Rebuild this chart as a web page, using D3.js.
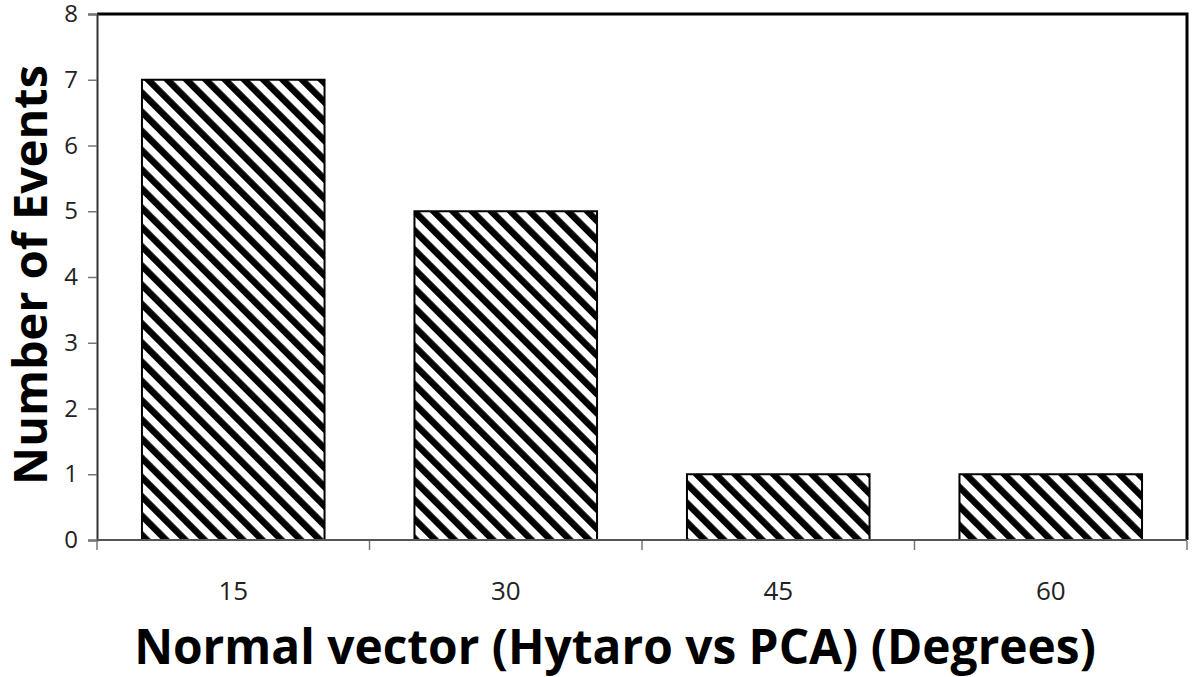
<!DOCTYPE html>
<html>
<head>
<meta charset="utf-8">
<script src="https://cdn.jsdelivr.net/npm/d3@7"></script>
<style>
  html, body { margin: 0; padding: 0; background: #fff; }
  svg { display: block; }
</style>
</head>
<body>
<svg id="chart" width="1200" height="677"></svg>
<script>
const categories = ["15", "30", "45", "60"];
const counts = [7, 5, 1, 1];
const yTicks = [0, 1, 2, 3, 4, 5, 6, 7, 8];
const xTitle = "Normal vector (Hytaro vs PCA) (Degrees)";
const yTitle = "Number of Events";

const W = 1200, H = 677;
const margin = { top: 14, right: 13, bottom: 137, left: 97 };
const iw = W - margin.left - margin.right;
const ih = H - margin.top - margin.bottom;

const svg = d3.select("#chart");

// hatch pattern
const defs = svg.append("defs");
const pat = defs.append("pattern")
  .attr("id", "hatch")
  .attr("patternUnits", "userSpaceOnUse")
  .attr("width", 13.6)
  .attr("height", 13.6)
  .attr("patternTransform", "rotate(-45)");
pat.append("rect").attr("width", 13.6).attr("height", 13.6).attr("fill", "#fff");
pat.append("rect").attr("x", 0).attr("width", 6.6).attr("height", 13.6).attr("fill", "#000");

const g = svg.append("g").attr("transform", `translate(${margin.left},${margin.top})`);

const x = d3.scaleBand().domain(categories).range([0, iw]).paddingInner(0.33).paddingOuter(0.165);
const y = d3.scaleLinear().domain([0, 8]).range([ih, 0]);

// bars
g.selectAll("rect.bar")
  .data(categories.map((c, i) => ({ c, v: counts[i] })))
  .join("rect")
  .attr("class", "bar")
  .attr("x", d => x(d.c))
  .attr("y", d => y(d.v))
  .attr("width", x.bandwidth())
  .attr("height", d => y(0) - y(d.v))
  .attr("fill", "url(#hatch)")
  .attr("stroke", "#000")
  .attr("stroke-width", 2);

// top & right border
g.append("path")
  .attr("d", `M0,0H${iw}V${ih}`)
  .attr("fill", "none")
  .attr("stroke", "#000")
  .attr("stroke-width", 3);

// y axis
const yAxis = g.append("g")
  .call(d3.axisLeft(y).tickValues(yTicks).tickSize(9).tickPadding(10).tickFormat(d3.format("d")));
yAxis.select(".domain").attr("stroke", "#333").attr("stroke-width", 2);
yAxis.selectAll(".tick line").attr("stroke", "#777").attr("stroke-width", 1.5);
yAxis.selectAll(".tick text")
  .attr("font-family", "'Open Sans', sans-serif")
  .attr("font-size", 24)
  .attr("fill", "#222");

// x axis with boundary ticks
const xAxis = g.append("g").attr("transform", `translate(0,${ih})`);
xAxis.append("line")
  .attr("x1", 0).attr("x2", iw)
  .attr("stroke", "#555").attr("stroke-width", 2);
const step = x.step();
const boundaries = d3.range(categories.length + 1).map(i => x(categories[0]) - x.paddingOuter() * step + i * step);
xAxis.selectAll("line.btick")
  .data(boundaries)
  .join("line")
  .attr("class", "btick")
  .attr("x1", d => d).attr("x2", d => d)
  .attr("y1", 1).attr("y2", 10)
  .attr("stroke", "#777").attr("stroke-width", 1.5);
xAxis.selectAll("text.xl")
  .data(categories)
  .join("text")
  .attr("class", "xl")
  .attr("x", d => x(d) + x.bandwidth() / 2)
  .attr("y", 60)
  .attr("text-anchor", "middle")
  .attr("font-family", "'Open Sans', sans-serif")
  .attr("font-size", 26)
  .attr("fill", "#222")
  .text(d => d);

// titles, fitted to measured widths in reference
function fit(sel, target, base) {
  sel.attr("font-size", base);
  const len = sel.node().getComputedTextLength();
  sel.attr("font-size", base * target / len);
}

const xt = svg.append("text")
  .attr("x", 615)
  .attr("y", 664)
  .attr("text-anchor", "middle")
  .attr("font-family", "'Open Sans', sans-serif")
  .attr("font-weight", 700)
  .attr("fill", "#000")
  .text(xTitle);
fit(xt, 962, 40);

const yt = svg.append("text")
  .attr("transform", `translate(47,275) rotate(-90)`)
  .attr("text-anchor", "middle")
  .attr("font-family", "'Open Sans', sans-serif")
  .attr("font-weight", 700)
  .attr("fill", "#000")
  .text(yTitle);
fit(yt, 420, 40);
</script>
</body>
</html>
